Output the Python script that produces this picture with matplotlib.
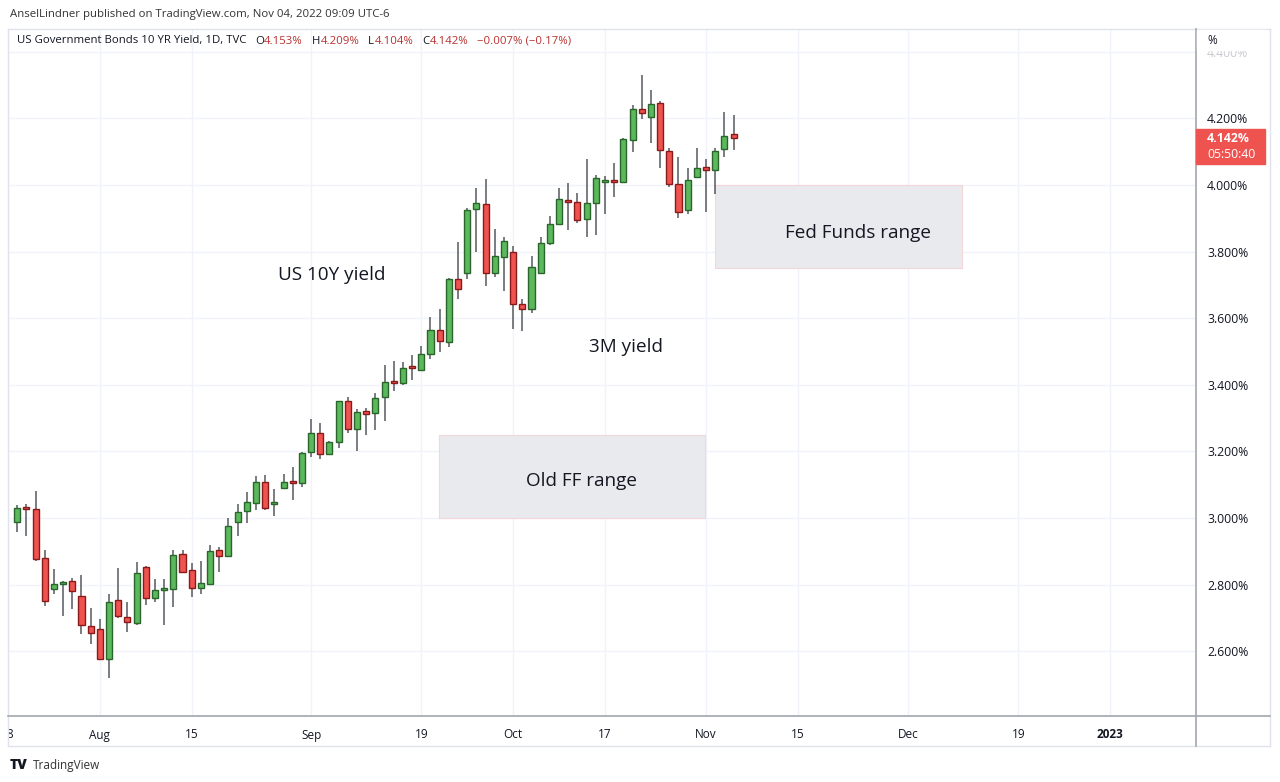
import numpy as np
import pandas as pd
import matplotlib
matplotlib.use("Agg")
import matplotlib.pyplot as plt
from matplotlib.patches import Rectangle
from matplotlib.transforms import Bbox

plt.rcParams['font.family'] = ['Open Sans', 'DejaVu Sans']

# daily candles of US10Y, Jul 19 - Nov 4 2022
dates = pd.bdate_range("2022-07-19", "2022-11-04")
opens = [2.987, 3.032, 3.027, 2.879, 2.787, 2.801, 2.812, 2.766, 2.677, 2.666,
         2.576, 2.753, 2.704, 2.686, 2.852, 2.760, 2.785, 2.787, 2.893, 2.844,
         2.789, 2.803, 2.904, 2.886, 2.989, 3.021, 3.046, 3.107, 3.041, 3.089,
         3.110, 3.104, 3.197, 3.256, 3.191, 3.229, 3.351, 3.267, 3.322, 3.314,
         3.362, 3.410, 3.404, 3.453, 3.444, 3.492, 3.565, 3.530, 3.717, 3.737,
         3.928, 3.943, 3.737, 3.783, 3.800, 3.643, 3.627, 3.735, 3.825, 3.882,
         3.955, 3.948, 3.898, 3.947, 4.008, 4.013, 4.008, 4.135, 4.228, 4.205,
         4.245, 4.102, 4.004, 3.925, 4.025, 4.053, 4.045, 4.107, 4.153]
highs = [3.039, 3.042, 3.082, 2.904, 2.846, 2.810, 2.821, 2.828, 2.729, 2.697,
         2.772, 2.849, 2.747, 2.869, 2.855, 2.818, 2.818, 2.904, 2.904, 2.866,
         2.871, 2.919, 2.914, 3.000, 3.041, 3.079, 3.126, 3.128, 3.086, 3.131,
         3.153, 3.197, 3.296, 3.286, 3.232, 3.352, 3.362, 3.326, 3.330, 3.376,
         3.459, 3.472, 3.468, 3.489, 3.517, 3.603, 3.628, 3.720, 3.828, 3.930,
         3.992, 4.018, 3.867, 3.843, 3.817, 3.657, 3.787, 3.843, 3.908, 3.990,
         4.005, 3.975, 4.078, 4.030, 4.027, 4.065, 4.142, 4.240, 4.331, 4.285,
         4.252, 4.110, 4.083, 4.050, 4.110, 4.078, 4.110, 4.220, 4.209]
lows = [2.959, 2.946, 2.872, 2.736, 2.772, 2.707, 2.726, 2.651, 2.621, 2.574,
        2.519, 2.700, 2.659, 2.679, 2.740, 2.748, 2.679, 2.732, 2.835, 2.762,
        2.772, 2.800, 2.837, 2.883, 2.947, 2.986, 3.024, 3.024, 3.007, 3.086,
        3.054, 3.094, 3.182, 3.177, 3.188, 3.209, 3.254, 3.201, 3.249, 3.264,
        3.292, 3.382, 3.400, 3.414, 3.440, 3.477, 3.500, 3.514, 3.657, 3.718,
        3.800, 3.698, 3.723, 3.683, 3.567, 3.562, 3.617, 3.733, 3.820, 3.880,
        3.865, 3.885, 3.843, 3.850, 3.913, 3.963, 4.005, 4.100, 4.198, 4.127,
        4.052, 3.995, 3.900, 3.912, 4.020, 3.920, 3.973, 4.085, 4.104]
closes = [3.029, 3.027, 2.877, 2.752, 2.801, 2.809, 2.781, 2.679, 2.654, 2.576,
          2.749, 2.706, 2.689, 2.834, 2.760, 2.784, 2.787, 2.889, 2.838, 2.789,
          2.806, 2.901, 2.887, 2.976, 3.017, 3.049, 3.108, 3.029, 3.044, 3.107,
          3.105, 3.194, 3.256, 3.191, 3.229, 3.351, 3.267, 3.317, 3.313, 3.359,
          3.407, 3.406, 3.450, 3.450, 3.492, 3.565, 3.531, 3.717, 3.688, 3.925,
          3.945, 3.735, 3.788, 3.832, 3.643, 3.627, 3.753, 3.827, 3.883, 3.958,
          3.948, 3.894, 3.945, 4.020, 4.012, 4.008, 4.138, 4.228, 4.217, 4.243,
          4.104, 4.004, 3.920, 4.015, 4.050, 4.045, 4.102, 4.147, 4.142]

tick_dates = ["2022-07-18", "2022-08-01", "2022-08-15", "2022-09-01", "2022-09-19",
              "2022-10-03", "2022-10-17", "2022-11-01", "2022-11-15", "2022-12-01",
              "2022-12-19", "2023-01-02"]
tick_labels = ["18", "Aug", "15", "Sep", "19", "Oct", "17", "Nov", "15", "Dec", "19", "2023"]
y_ticks = [2.6, 2.8, 3.0, 3.2, 3.4, 3.6, 3.8, 4.0, 4.2, 4.4]

# ranges drawn on the chart (dates, low %, high %)
fed_range = ("2022-11-02", "2022-12-09", 3.75, 4.00)
old_ff_range = ("2022-09-21", "2022-11-01", 3.00, 3.25)

W, H = 1280, 782
fig = plt.figure(figsize=(W / 100, H / 100), dpi=100)
fig.patch.set_facecolor("white")

def fx(px):
    return px / W

def fy(py):
    return 1 - py / H

ax = fig.add_axes([fx(8), fy(716), fx(1196) - fx(8), fy(29) - fy(716)])
for s in ax.spines.values():
    s.set_visible(False)

x = np.arange(len(dates))
o = np.array(opens); h = np.array(highs); l = np.array(lows); c = np.array(closes)
up = c >= o
start = dates[0].strftime("%Y-%m-%d")

def pos(d):
    return np.busday_count(start, d)

# grid
for yv in y_ticks:
    ax.axhline(yv, color="#f0f3fa", lw=1, zorder=0)
tick_pos = [pos(d) for d in tick_dates]
for tp in tick_pos:
    ax.axvline(tp, color="#f0f3fa", lw=1, zorder=0)

# range boxes
for r in (fed_range, old_ff_range):
    x0 = pos(r[0]) - 0.05
    x1 = pos(r[1]) - 0.1
    ax.add_patch(Rectangle((x0, r[2]), x1 - x0, r[3] - r[2], facecolor="#e9eaee",
                           edgecolor="#f2d6d8", lw=0.8, zorder=1))

# candles
ax.vlines(x, l, h, color="#555a60", lw=1.1, zorder=2)
body_lo = np.minimum(o, c)
body_h = np.maximum(np.abs(c - o), 0.006)
ax.bar(x[up], body_h[up], bottom=body_lo[up], width=0.66, color="#5cb85c",
       edgecolor="#2a662c", lw=1.0, zorder=3)
ax.bar(x[~up], body_h[~up], bottom=body_lo[~up], width=0.66, color="#ef5350",
       edgecolor="#8a1a1a", lw=1.0, zorder=3)

ax.set_xlim((8 - 15.2) / 9.2, (1196 - 15.2) / 9.2)
ax.set_ylim(4.0 - (716 - 185) / 333.0, 4.0 - (29 - 185) / 333.0)

ax.set_xticks(tick_pos)
ax.set_xticklabels(tick_labels)
ax.tick_params(axis="x", length=0, pad=9, labelsize=8.5, labelcolor="#131722")
xl = ax.get_xticklabels()
xl[-1].set_fontweight("bold")
# first label is cut by the left frame edge
xl[0].set_clip_box(Bbox([[9, 0], [W, H]]))
xl[0].set_clip_on(True)

ax.yaxis.tick_right()
ax.set_yticks(y_ticks)
ax.set_yticklabels([f"{v:.3f}%" for v in y_ticks])
ax.tick_params(axis="y", length=0, pad=8, labelsize=8.8, labelcolor="#131722")
ax.get_yticklabels()[-1].set_color("#c8cad0")

# annotations
ax.text(34.3, 3.73, "US 10Y yield", fontsize=13.6, color="#131722", ha="center", va="center")
ax.text(66.3, 3.514, "3M yield", fontsize=13.6, color="#131722", ha="center", va="center")
ax.text(61.4, 3.111, "Old FF range", fontsize=13.6, color="#131722", ha="center", va="center")
ax.text(91.5, 3.856, "Fed Funds range", fontsize=13.6, color="#131722", ha="center", va="center")

# frame lines
def line(x0, y0, x1, y1, color, lw=1):
    fig.add_artist(plt.Line2D([fx(x0), fx(x1)], [fy(y0), fy(y1)], color=color, lw=lw))

fig.add_artist(Rectangle((fx(1197), fy(50)), fx(70), fy(30) - fy(50), color="white", zorder=5))
line(8, 29, 1270, 29, "#e0e3eb")
line(8, 29, 8, 746, "#e0e3eb")
line(1270, 29, 1270, 746, "#e0e3eb")
line(8, 746, 1270, 746, "#e0e3eb")
line(1196, 29, 1196, 746, "#a3a6ae", 1.2)
line(8, 716, 1270, 716, "#a3a6ae", 1.2)

fig.text(fx(1207), fy(41), "%", fontsize=8.5, color="#131722", va="center", zorder=6)

# last price label
fig.add_artist(Rectangle((fx(1196), fy(164)), fx(69), fy(129) - fy(164), color="#ef5350", zorder=6))
fig.text(fx(1207), fy(138), f"{closes[-1]:.3f}%", fontsize=8.8, color="white", va="center",
         fontweight="bold", zorder=7)
fig.text(fx(1207), fy(155), "05:50:40", fontsize=8.8, color="white", va="center", zorder=7)

# header
fig.text(fx(10), fy(14), "AnselLindner published on TradingView.com, Nov 04, 2022 09:09 UTC-6",
         fontsize=8.2, color="#333333", va="center")
t = fig.text(fx(17), fy(41), "US Government Bonds 10 YR Yield, 1D, TVC", fontsize=8.2,
             color="#131722", va="center")
red = "#b8312f"
parts = [("O", "#131722", 6.5), (f"{opens[-1]:.3f}%", red, 0), ("H", "#131722", 6.5),
         (f"{highs[-1]:.3f}%", red, 0), ("L", "#131722", 6.5), (f"{lows[-1]:.3f}%", red, 0),
         ("C", "#131722", 6.5), (f"{closes[-1]:.3f}%", red, 0),
         ("\u22120.007% (\u22120.17%)", red, 6.5)]
prev = t
for s, col, gap in parts:
    prev = ax.annotate(s, xy=(1, 0.5), xycoords=prev, xytext=(gap, 0), textcoords="offset points",
                       fontsize=8.2, color=col, va="center", annotation_clip=False)

# footer logo
fig.text(fx(10), fy(765), "TV", fontsize=10, fontweight="black", color="#131722", va="center")
fig.text(fx(33), fy(765), "TradingView", fontsize=8.5, color="#333333", va="center")

fig.savefig("out.png", dpi=100, facecolor="white")
